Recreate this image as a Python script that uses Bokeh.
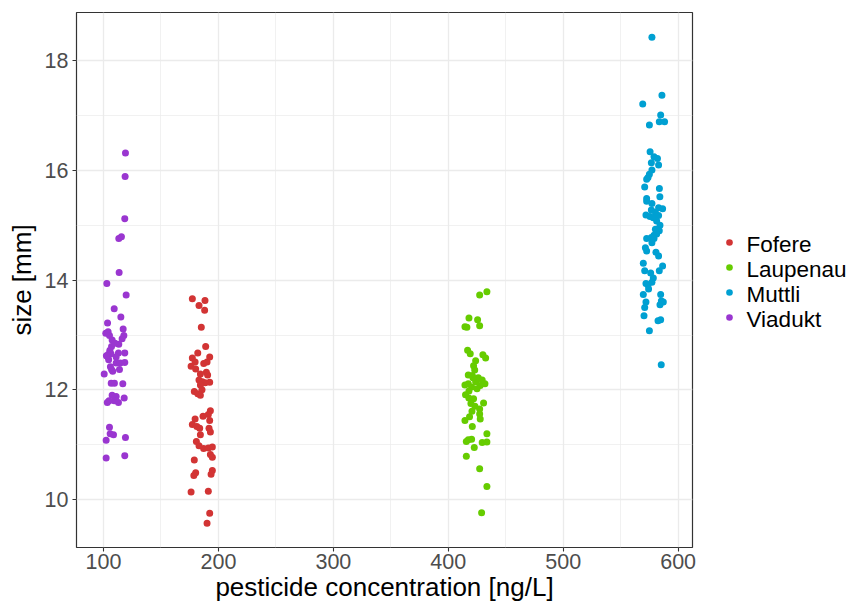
from bokeh.plotting import figure
from bokeh.layouts import row
from bokeh.models import Range1d, FactorRange, FixedTicker
from bokeh.core.properties import value
from bokeh.embed import file_html
from bokeh.resources import INLINE

# Jittered body size per site versus pesticide concentration
sites = ["Fofere", "Laupenau", "Muttli", "Viadukt"]
colors = ["#D23434", "#66CC00", "#00A0D2", "#9A36D0"]

fofere_x = [177.3, 188.3, 183.1, 188.0, 185.1, 188.9, 182.0, 177.3, 192.4, 179.7,
            187.2, 190.1, 176.2, 180.2, 189.5, 184.3, 190.6, 183.1, 186.0, 192.4,
            188.4, 184.3, 179.0, 182.0, 185.7, 184.3, 193.0, 191.2, 186.6, 179.7,
            177.3, 181.2, 183.7, 192.4, 191.8, 193.0, 184.3, 180.8, 183.1, 187.1,
            191.2, 194.7, 193.0, 194.7, 179.0, 180.2, 178.6, 194.7, 193.6, 176.2,
            191.2, 192.4, 190.1]
fofere_y = [13.66, 13.63, 13.54, 13.45, 13.14, 12.79, 12.67, 12.58, 12.60, 12.51,
            12.48, 12.51, 12.43, 12.38, 12.32, 12.29, 12.27, 12.18, 12.15, 12.14,
            12.13, 12.09, 11.97, 11.93, 12.00, 11.90, 11.62, 11.55, 11.52, 11.47,
            11.37, 11.33, 11.30, 11.44, 11.30, 11.23, 11.18, 11.06, 10.98, 10.93,
            10.94, 10.96, 10.82, 10.77, 10.72, 10.49, 10.44, 10.53, 10.46, 10.14,
            10.15, 9.75, 9.57]

laupenau_x = [433.6, 427.3, 418.0, 425.5, 414.5, 416.2, 427.3, 416.8, 419.1, 430.1,
              432.5, 423.8, 422.0, 417.4, 414.5, 420.9, 426.1, 429.5, 423.8, 431.9,
              427.8, 420.3, 417.4, 415.0, 417.9, 422.0, 430.7, 419.7, 423.2, 427.3,
              420.6, 427.3, 418.5, 414.5, 427.8, 420.9, 433.6, 429.5, 433.6, 417.4,
              415.7, 420.3, 422.6, 415.7, 427.3, 433.6, 429.0, 421.5, 425.0, 418.0,
              423.0]
laupenau_y = [13.79, 13.73, 13.31, 13.28, 13.15, 13.14, 13.17, 12.72, 12.66, 12.64,
              12.58, 12.53, 12.44, 12.27, 12.09, 12.26, 12.22, 12.18, 12.15, 12.11,
              12.08, 12.05, 12.11, 11.91, 11.85, 11.84, 11.76, 11.75, 11.70, 11.65,
              11.61, 11.56, 11.51, 11.44, 11.47, 11.33, 11.20, 11.04, 11.05, 11.09,
              11.06, 11.10, 10.95, 10.79, 10.56, 10.24, 9.76, 12.22, 12.02, 11.98,
              12.36]

muttli_x = [577.2, 585.9, 569.2, 584.8, 583.6, 588.2, 575.0, 575.6, 579.0, 582.0,
            576.7, 583.0, 577.2, 575.0, 573.8, 572.6, 570.9, 583.7, 572.6, 584.1,
            572.6, 577.2, 583.0, 586.5, 576.7, 580.2, 572.0, 575.5, 578.4, 583.0,
            581.3, 584.2, 580.2, 583.6, 579.0, 581.3, 572.6, 576.7, 579.0, 571.5,
            572.6, 577.2, 580.7, 583.0, 569.7, 570.9, 586.5, 583.6, 576.1, 578.4,
            577.2, 573.8, 572.0, 569.7, 574.3, 584.8, 585.4, 587.1, 584.2, 572.0,
            570.9, 570.3, 582.5, 584.8, 575.0, 585.3]
muttli_y = [18.43, 17.37, 17.21, 17.01, 16.89, 16.89, 16.83, 16.34, 16.25, 16.22,
            16.14, 16.10, 16.01, 15.93, 15.87, 15.84, 15.70, 15.67, 15.49, 15.52,
            15.44, 15.40, 15.32, 15.30, 15.28, 15.24, 15.19, 15.16, 15.14, 15.18,
            15.08, 15.00, 14.93, 14.90, 14.82, 14.84, 14.76, 14.78, 14.76, 14.59,
            14.53, 14.68, 14.51, 14.44, 14.31, 14.17, 14.26, 14.17, 14.13, 14.04,
            13.96, 13.91, 13.94, 13.74, 13.84, 13.74, 13.62, 13.60, 13.55, 13.60,
            13.50, 13.35, 13.26, 13.28, 13.08, 12.46]

viadukt_x = [119.1, 118.8, 118.5, 113.3, 115.6, 113.6, 102.9, 119.7, 109.3, 115.1,
             103.5, 117.1, 102.0, 104.0, 105.2, 117.7, 116.2, 107.5, 113.3, 107.0,
             105.5, 104.3, 103.8, 106.5, 113.0, 118.5, 111.0, 111.0, 114.5, 118.5,
             100.6, 107.0, 108.0, 113.9, 106.7, 109.5, 116.8, 103.3, 109.3, 113.0,
             111.0, 118.0, 105.2, 105.8, 108.7, 102.3, 119.1, 102.3, 118.5, 104.5,
             102.5, 106.0, 110.0, 104.8, 107.5]
viadukt_y = [16.32, 15.89, 15.12, 14.76, 14.79, 14.14, 13.94, 13.73, 13.48, 13.33,
             13.22, 13.11, 13.03, 13.06, 12.99, 12.99, 12.93, 12.91, 12.83, 12.79,
             12.72, 12.65, 12.60, 12.66, 12.67, 12.67, 12.60, 12.49, 12.49, 12.50,
             12.29, 12.37, 12.34, 12.37, 12.12, 12.12, 12.11, 11.77, 11.80, 11.77,
             11.88, 11.85, 11.32, 11.20, 11.18, 11.08, 11.13, 10.76, 10.80, 12.55,
             12.62, 12.42, 12.85, 11.80, 11.90]

x_ticks = [100, 200, 300, 400, 500, 600]
y_ticks = [10, 12, 14, 16, 18]

FONT = "Liberation Sans"
DOT = 7

p = figure(width=700, height=604, output_backend="svg", toolbar_location=None,
           x_range=Range1d(76.5, 612.5), y_range=Range1d(9.126, 18.88),
           min_border_left=76, min_border_right=8, min_border_top=12,
           min_border_bottom=56)

p.background_fill_color = "white"
p.border_fill_color = "white"
p.outline_line_color = "#333333"
p.outline_line_width = 1.2

p.xaxis.ticker = FixedTicker(ticks=x_ticks, minor_ticks=[150, 250, 350, 450, 550])
p.yaxis.ticker = FixedTicker(ticks=y_ticks, minor_ticks=[11, 13, 15, 17])

for g in (p.xgrid, p.ygrid):
    g.grid_line_color = "#EBEBEB"
    g.grid_line_width = 1.3
    g.minor_grid_line_color = "#EBEBEB"
    g.minor_grid_line_width = 0.7

for ax in (p.xaxis, p.yaxis):
    ax.axis_line_color = None
    ax.major_tick_in = 0
    ax.major_tick_out = 4
    ax.major_tick_line_color = "#333333"
    ax.major_tick_line_width = 1.1
    ax.minor_tick_line_color = None
    ax.major_label_text_font = FONT
    ax.major_label_text_font_size = "21.5px"
    ax.major_label_text_color = "#4D4D4D"
    ax.axis_label_text_font = FONT
    ax.axis_label_text_font_size = "26px"
    ax.axis_label_text_font_style = "normal"
    ax.axis_label_text_color = "black"

p.xaxis.axis_label = "pesticide concentration [ng/L]"
p.yaxis.axis_label = "size [mm]"
p.xaxis.major_label_standoff = 2
p.yaxis.major_label_standoff = 4
p.xaxis.axis_label_standoff = 0
p.yaxis.axis_label_standoff = 5

series = [(fofere_x, fofere_y), (laupenau_x, laupenau_y),
          (muttli_x, muttli_y), (viadukt_x, viadukt_y)]
for col, (xs, ys) in zip(colors, series):
    p.scatter(xs, ys, size=DOT, fill_color=col, line_color=None)

# key panel: one row per site, first site on top, rows 25 px apart
# (its frame is aligned with the main frame, 536 px tall)
key = figure(width=149, height=604, output_backend="svg", toolbar_location=None,
             x_range=Range1d(-29, 120),
             y_range=FactorRange(factors=sites[::-1], range_padding=8.72,
                                 range_padding_units="absolute"),
             min_border_left=0, min_border_right=0, min_border_top=12,
             min_border_bottom=56, outline_line_color=None)
key.axis.visible = False
key.grid.visible = False
key_x = [0] * len(sites)
key.scatter(key_x, sites, size=DOT - 0.4, fill_color=colors, line_color=None)
key.text(key_x, sites, text=sites, x_offset=17, y_offset=2,
         text_baseline="middle", text_align="left", text_font=value(FONT),
         text_font_size="22.5px", text_color="black")

layout = row(p, key)
open("out.html", "w").write(file_html(layout, INLINE))
